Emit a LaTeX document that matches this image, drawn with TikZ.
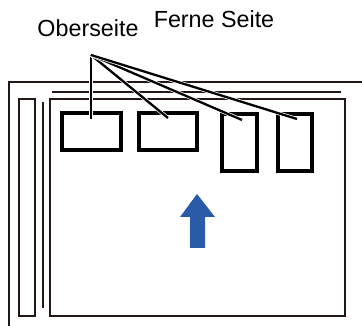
\documentclass[tikz,border=0pt]{standalone}
\usepackage{fontspec}
\setmainfont{Liberation Sans}
\definecolor{framecol}{RGB}{35,24,21}
\definecolor{arrowblue}{RGB}{42,91,168}
\begin{document}
\begin{tikzpicture}[x=1pt,y=-1pt,
  frame/.style={draw=framecol,line width=1.5pt},
  pad/.style={draw=black,line width=3.2pt,inner sep=0pt,outer sep=0pt},
  leader/.style={line width=2.3pt,preaction={draw=white,line width=3.8pt}},
  lbl/.style={anchor=base,font=\fontsize{23.3}{28}\selectfont}]
  \useasboundingbox (0,0) rectangle (362,326);
  \draw[frame] (9,326) -- (9,82) -- (362,82);
  \draw[frame] (52,92) -- (341,92);
  \draw[frame] (19,99) rectangle (35,316);
  \draw[frame] (43,102) -- (43,308);
  \draw[frame] (50,99) rectangle (345,316);
  \node[pad,minimum width=59pt,minimum height=37pt] (p1) at (91.5,131.5) {};
  \node[pad,minimum width=58pt,minimum height=37pt] (p2) at (168,131.5) {};
  \node[pad,minimum width=35pt,minimum height=57pt] (p3) at (239.5,142.5) {};
  \node[pad,minimum width=34pt,minimum height=57pt] (p4) at (295,142.5) {};
  \node[lbl] (top) at (88,37) {Oberseite};
  \node[lbl] (far) at (214,28) {Ferne Seite};
  \coordinate (apex) at (91,55);
  \coordinate (e1) at (91,119);
  \coordinate (e2) at (168,118);
  \coordinate (e3) at (242,120);
  \coordinate (e4) at (297,119);
  \foreach \e in {e1,e2,e3,e4}
    \draw[leader] (apex) -- (\e);
  \fill[arrowblue] (197,194) -- (215,217) -- (205,217) -- (205,248)
    -- (190,248) -- (190,217) -- (180,217) -- cycle;
\end{tikzpicture}
\end{document}
